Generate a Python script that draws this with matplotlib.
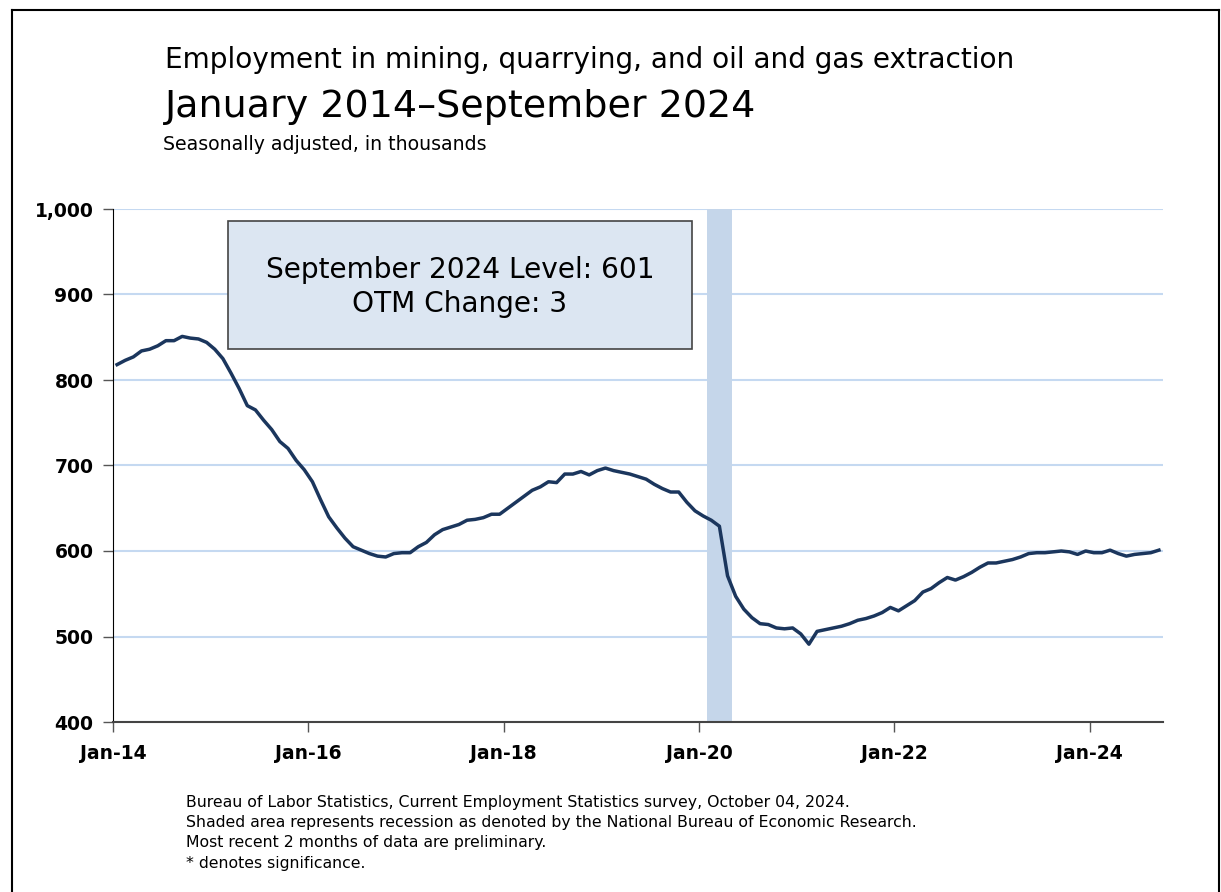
import numpy as np
import pandas as pd
import matplotlib.pyplot as plt
from matplotlib.patches import Rectangle
from matplotlib.lines import Line2D

## monthly employment, thousands (Jan 2014 - Sep 2024)
months = pd.date_range('2014-01-01', '2024-09-01', freq='MS')
employment = [
    818, 823, 827, 834, 836, 840, 846, 846, 851, 849, 848, 844,   # 2014
    836, 825, 808, 790, 770, 765, 753, 742, 728, 720, 706, 695,   # 2015
    681, 660, 640, 627, 615, 605, 601, 597, 594, 593, 597, 598,   # 2016
    598, 605, 610, 619, 625, 628, 631, 636, 637, 639, 643, 643,   # 2017
    650, 657, 664, 671, 675, 681, 680, 690, 690, 693, 689, 694,   # 2018
    697, 694, 692, 690, 687, 684, 678, 673, 669, 669, 657, 647,   # 2019
    641, 636, 629, 571, 547, 532, 522, 515, 514, 510, 509, 510,   # 2020
    503, 491, 506, 508, 510, 512, 515, 519, 521, 524, 528, 534,   # 2021
    530, 536, 542, 552, 556, 563, 569, 566, 570, 575, 581, 586,   # 2022
    586, 588, 590, 593, 597, 598, 598, 599, 600, 599, 596, 600,   # 2023
    598, 598, 601, 597, 594, 596, 597, 598, 601,                  # 2024
]
recession = ('2020-02-01', '2020-04-01')
yticks = [400, 500, 600, 700, 800, 900, 1000]
box_text = 'September 2024 Level: 601\nOTM Change: 3'

title1 = 'Employment in mining, quarrying, and oil and gas extraction'
title2 = 'January 2014\u2013September 2024'
subtitle = 'Seasonally adjusted, in thousands'
notes = ['Bureau of Labor Statistics, Current Employment Statistics survey, October 04, 2024.',
         'Shaded area represents recession as denoted by the National Bureau of Economic Research.',
         'Most recent 2 months of data are preliminary.',
         '* denotes significance.']

plt.rcParams['font.family'] = ['DejaVu Sans']

W, H = 1221, 892
fig = plt.figure(figsize=(W / 100, H / 100), dpi=100)
ax = fig.add_axes([113 / W, 1 - 722 / H, (1163 - 113) / W, (722 - 209) / H])

n = len(months)
x = np.arange(n) + 0.5   # category slots, point in the middle

# recession shading
r0 = months.get_loc(pd.Timestamp(recession[0]))
r1 = months.get_loc(pd.Timestamp(recession[1])) + 1
ax.axvspan(r0, r1, color='#c5d6ea', zorder=1, lw=0)

ax.plot(x, employment, color='#1b365d', lw=2.5, zorder=3, solid_joinstyle='round')

ax.set_xlim(0, n)
ax.set_ylim(400, 1000)
ax.set_yticks(yticks)
ax.set_yticklabels([f'{v:,}' for v in yticks], fontsize=13.5, fontweight='bold')
tick_pos = np.arange(0, n, 24)
ax.set_xticks(tick_pos)
ax.set_xticklabels([months[i].strftime('%b-%y') for i in tick_pos], fontsize=13.5, fontweight='bold')
ax.tick_params(axis='both', direction='out', length=7, width=1, color='#555555')
ax.tick_params(axis='y', pad=7)
ax.tick_params(axis='x', pad=9)

ax.grid(True, axis='y', color='#c5d9f1', lw=1.5, zorder=0)
ax.set_axisbelow(True)
for s in ['top', 'right']:
    ax.spines[s].set_visible(False)
ax.spines['left'].set_color('black')
ax.spines['bottom'].set_color('#444444')
ax.spines['bottom'].set_linewidth(1.5)

# level box
fig.patches.append(Rectangle((228 / W, 1 - 349 / H), (692 - 228) / W, (349 - 221) / H,
                             transform=fig.transFigure, facecolor='#dce6f2',
                             edgecolor='#444444', lw=1.2, zorder=5))
fig.text(460 / W, 1 - 287 / H, box_text, ha='center', va='center', fontsize=20.2,
         linespacing=1.3, zorder=6)

# titles
fig.text(165 / W, 1 - 60 / H, title1, ha='left', va='center', fontsize=20.2)
fig.text(165 / W, 1 - 107 / H, title2, ha='left', va='center', fontsize=27.4)
fig.text(163 / W, 1 - 145 / H, subtitle, ha='left', va='center', fontsize=13.6)

# footnotes
for i, t in enumerate(notes):
    fig.text(186 / W, 1 - (802 + 20.5 * i) / H, t, ha='left', va='center', fontsize=11.3)

# outer frame
fig.add_artist(Line2D([12 / W, 12 / W], [0, 1 - 10 / H], transform=fig.transFigure, color='black', lw=1.5))
fig.add_artist(Line2D([12 / W, 1219 / W], [1 - 10 / H, 1 - 10 / H], transform=fig.transFigure, color='black', lw=1.5))
fig.add_artist(Line2D([1219 / W, 1219 / W], [0, 1 - 10 / H], transform=fig.transFigure, color='black', lw=1.5))

plt.savefig('out.png', dpi=100)
